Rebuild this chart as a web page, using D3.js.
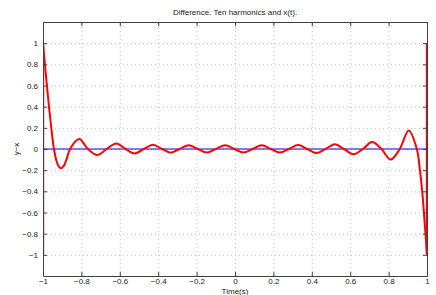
<!DOCTYPE html>
<html>
<head>
<meta charset="utf-8">
<script src="https://cdn.jsdelivr.net/npm/d3@7"></script>
<style>
  body { margin: 0; background: #fff; }
  svg { display: block; font-family: "Liberation Sans", Arial, sans-serif; }
</style>
</head>
<body>
<div id="chart"></div>
<script>
// values: time and y - x
const diffT = [-1, -0.985, -0.97, -0.955, -0.943, -0.93, -0.918, -0.906, -0.892, -0.876, -0.859,
  -0.811, -0.766, -0.717, -0.668, -0.618, -0.570, -0.523, -0.475, -0.428, -0.380,
  -0.335, -0.288, -0.241, -0.194, -0.146, -0.099, -0.051, -0.004, 0.044, 0.092,
  0.139, 0.186, 0.234, 0.281, 0.329, 0.376, 0.424, 0.471, 0.520, 0.567,
  0.617, 0.666, 0.714, 0.763, 0.810, 0.858, 0.905, 0.947, 0.963, 0.975, 0.988, 1];
const diffV = [1, 0.70, 0.42, 0.17, 0, -0.11, -0.165, -0.183, -0.16, -0.09, 0,
  0.094, 0, -0.057, 0, 0.053, 0, -0.042, 0, 0.040, 0,
  -0.035, 0, 0.036, 0, -0.033, 0, 0.035, 0, -0.033, 0,
  0.036, 0, -0.034, 0, 0.037, 0, -0.038, 0, 0.045, 0,
  -0.050, 0, 0.065, 0, -0.100, 0, 0.175, 0, -0.20, -0.40, -0.70, -1];
// jumps drawn at the ends of the interval
const jumpLeft = [[-1, 1], [-1, -1]];
const jumpRight = [[1, 1], [1, -1]];
const zeroLine = [[-1, 0], [1, 0]];

const xTicks = [-1, -0.8, -0.6, -0.4, -0.2, 0, 0.2, 0.4, 0.6, 0.8, 1];
const yTicks = [-1, -0.8, -0.6, -0.4, -0.2, 0, 0.2, 0.4, 0.6, 0.8, 1];

const W = 436, H = 295;
const margin = {top: 22, right: 9, bottom: 19, left: 43};
const w = W - margin.left - margin.right;
const h = H - margin.top - margin.bottom;

const svg = d3.select("#chart").append("svg")
  .attr("width", W).attr("height", H);

const x = d3.scaleLinear().domain([-1, 1]).range([0, w]);
const y = d3.scaleLinear().domain([-1.2, 1.2]).range([h, 0]);

const g = svg.append("g").attr("transform", `translate(${margin.left},${margin.top})`);

const fmt = d => d3.format("")(d).replace("-", "\u2212");

// dotted grid
g.append("g").attr("transform", `translate(0,${h})`)
  .call(d3.axisBottom(x).tickValues(xTicks).tickSize(-h).tickFormat(""))
  .call(a => a.select(".domain").remove())
  .selectAll("line").attr("stroke", "#c4c4c4").attr("stroke-dasharray", "1,3");
g.append("g")
  .call(d3.axisLeft(y).tickValues(yTicks).tickSize(-w).tickFormat(""))
  .call(a => a.select(".domain").remove())
  .selectAll("line").attr("stroke", "#c4c4c4").attr("stroke-dasharray", "1,3");

g.append("defs").append("clipPath").attr("id", "clip")
  .append("rect").attr("width", w).attr("height", h);

const line = d3.line().x(d => x(d[0])).y(d => y(d[1]));
const plot = g.append("g").attr("clip-path", "url(#clip)");

plot.append("path").datum(jumpLeft).attr("d", line)
  .attr("fill", "none").attr("stroke", "#ff0000").attr("stroke-width", 2.4);
plot.append("path").datum(jumpRight).attr("d", line)
  .attr("fill", "none").attr("stroke", "#ff0000").attr("stroke-width", 2.4);

plot.append("path").datum(zeroLine).attr("d", line)
  .attr("fill", "none").attr("stroke", "#0000ff").attr("stroke-width", 1.2);

const curve = d3.line()
  .x((d, i) => x(diffT[i])).y(d => y(d))
  .curve(d3.curveCatmullRom.alpha(0.5));
plot.append("path").datum(diffV).attr("d", curve)
  .attr("fill", "none").attr("stroke", "#ff0000").attr("stroke-width", 2);

// axes with inward ticks on all four sides
const axisColor = "#404040";
const styleAxis = a => {
  a.select(".domain").attr("stroke", axisColor);
  a.selectAll(".tick line").attr("stroke", axisColor);
  a.selectAll("text").attr("fill", "#222").style("font-size", "8px");
};
g.append("g").attr("transform", `translate(0,${h})`)
  .call(d3.axisBottom(x).tickValues(xTicks).tickSize(-4).tickSizeOuter(0).tickPadding(2).tickFormat(fmt))
  .call(styleAxis);
g.append("g")
  .call(d3.axisTop(x).tickValues(xTicks).tickSize(-4).tickSizeOuter(0).tickFormat(""))
  .call(styleAxis);
g.append("g")
  .call(d3.axisLeft(y).tickValues(yTicks).tickSize(-4).tickSizeOuter(0).tickPadding(5).tickFormat(fmt))
  .call(styleAxis);
g.append("g").attr("transform", `translate(${w},0)`)
  .call(d3.axisRight(y).tickValues(yTicks).tickSize(-4).tickSizeOuter(0).tickFormat(""))
  .call(styleAxis);

svg.append("text")
  .attr("x", margin.left + w / 2).attr("y", 15)
  .attr("text-anchor", "middle").style("font-size", "8px").attr("fill", "#222")
  .text("Difference. Ten harmonics and x(t).");

svg.append("text")
  .attr("x", margin.left + w / 2).attr("y", 294)
  .attr("text-anchor", "middle").style("font-size", "8px").attr("fill", "#222")
  .text("Time(s)");

svg.append("text")
  .attr("transform", `translate(19,${margin.top + y(0)}) rotate(-90)`)
  .attr("text-anchor", "middle").style("font-size", "8px").attr("fill", "#222")
  .text("y\u2212x");
</script>
</body>
</html>
